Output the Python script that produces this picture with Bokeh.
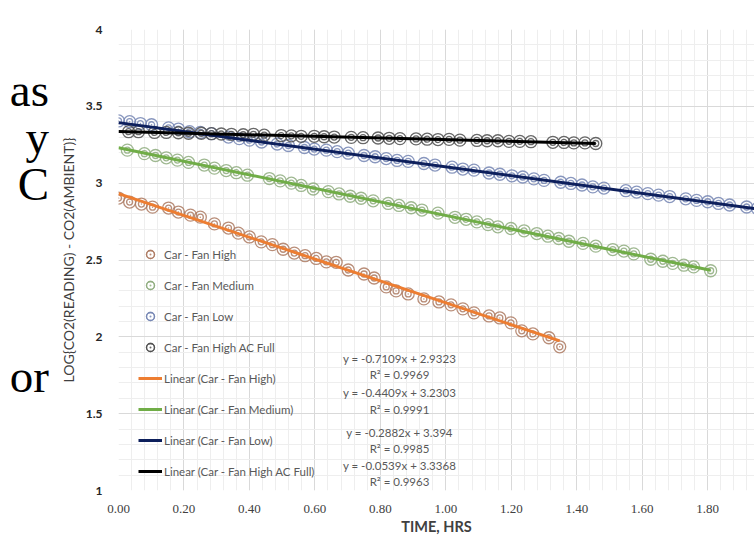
from bokeh.plotting import figure
from bokeh.layouts import row
from bokeh.models import (Range1d, FixedTicker, NumeralTickFormatter, Legend,
                          LegendItem, Label, Div)
from bokeh.embed import file_html
from bokeh.resources import INLINE

# ---------------- data ----------------
high_x = [0.000, 0.034, 0.070, 0.104, 0.153, 0.183, 0.220, 0.250, 0.293, 0.336,
          0.366, 0.400, 0.436, 0.470, 0.503, 0.537, 0.570, 0.604, 0.635, 0.665,
          0.702, 0.750, 0.781, 0.818, 0.848, 0.885, 0.933, 0.979, 1.016, 1.052,
          1.086, 1.132, 1.165, 1.199, 1.232, 1.266, 1.315, 1.348]
high_y = [2.903, 2.877, 2.864, 2.844, 2.838, 2.812, 2.792, 2.779, 2.735, 2.708,
          2.675, 2.650, 2.618, 2.600, 2.570, 2.545, 2.528, 2.510, 2.488, 2.485,
          2.435, 2.409, 2.383, 2.325, 2.299, 2.279, 2.247, 2.227, 2.208, 2.182,
          2.156, 2.136, 2.123, 2.091, 2.039, 2.019, 1.994, 1.935]

med_x = [0.027, 0.079, 0.113, 0.146, 0.180, 0.214, 0.262, 0.293, 0.329, 0.360,
         0.394, 0.461, 0.494, 0.528, 0.558, 0.595, 0.641, 0.674, 0.708, 0.741,
         0.778, 0.824, 0.857, 0.894, 0.927, 0.976, 1.028, 1.062, 1.095, 1.129,
         1.159, 1.199, 1.239, 1.278, 1.312, 1.345, 1.376, 1.419, 1.458, 1.510,
         1.544, 1.574, 1.626, 1.663, 1.693, 1.727, 1.757, 1.809]
med_y = [3.215, 3.192, 3.180, 3.165, 3.150, 3.135, 3.118, 3.098, 3.082, 3.068,
         3.052, 3.030, 3.015, 3.000, 2.985, 2.962, 2.945, 2.930, 2.915, 2.902,
         2.885, 2.868, 2.855, 2.840, 2.825, 2.805, 2.778, 2.765, 2.748, 2.730,
         2.716, 2.705, 2.690, 2.672, 2.655, 2.640, 2.622, 2.608, 2.590, 2.568,
         2.558, 2.540, 2.505, 2.492, 2.478, 2.466, 2.455, 2.430]

low_x = [0.000, 0.034, 0.067, 0.101, 0.153, 0.183, 0.217, 0.250, 0.284, 0.336,
         0.369, 0.400, 0.437, 0.485, 0.519, 0.568, 0.598, 0.635, 0.668, 0.702,
         0.750, 0.784, 0.818, 0.851, 0.885, 0.933, 0.967, 1.019, 1.052, 1.086,
         1.132, 1.165, 1.202, 1.235, 1.269, 1.300, 1.351, 1.382, 1.416, 1.449,
         1.483, 1.550, 1.583, 1.617, 1.650, 1.684, 1.733, 1.766, 1.800, 1.833,
         1.867, 1.919, 1.952]
low_y = [3.405, 3.400, 3.388, 3.380, 3.360, 3.352, 3.335, 3.330, 3.322, 3.300,
         3.290, 3.280, 3.268, 3.255, 3.245, 3.232, 3.222, 3.215, 3.205, 3.195,
         3.180, 3.172, 3.160, 3.148, 3.142, 3.128, 3.118, 3.104, 3.092, 3.085,
         3.066, 3.058, 3.048, 3.040, 3.028, 3.018, 3.006, 2.998, 2.988, 2.976,
         2.968, 2.951, 2.942, 2.932, 2.922, 2.913, 2.898, 2.888, 2.879, 2.868,
         2.858, 2.845, 2.835]

acf_x = [0.031, 0.061, 0.110, 0.146, 0.183, 0.214, 0.253, 0.284, 0.314, 0.345,
         0.381, 0.412, 0.445, 0.497, 0.528, 0.558, 0.598, 0.628, 0.659, 0.711,
         0.747, 0.793, 0.827, 0.860, 0.909, 0.943, 0.976, 1.010, 1.043, 1.095,
         1.126, 1.159, 1.193, 1.226, 1.260, 1.327, 1.361, 1.391, 1.425, 1.458]
acf_y = [3.335, 3.335, 3.330, 3.330, 3.328, 3.325, 3.325, 3.322, 3.320, 3.318,
         3.315, 3.318, 3.312, 3.310, 3.308, 3.305, 3.305, 3.302, 3.300, 3.298,
         3.296, 3.294, 3.292, 3.290, 3.288, 3.286, 3.284, 3.285, 3.280, 3.278,
         3.276, 3.276, 3.272, 3.272, 3.270, 3.266, 3.265, 3.262, 3.262, 3.258]

series_names = ["Car - Fan High", "Car - Fan Medium", "Car - Fan Low",
                "Car - Fan High AC Full"]
slopes = [-0.7109, -0.4409, -0.2882, -0.0539]
intercepts = [2.9323, 3.2303, 3.394, 3.3368]
r_squared = [0.9969, 0.9991, 0.9985, 0.9963]

x_ticks = [0.0, 0.2, 0.4, 0.6, 0.8, 1.0, 1.2, 1.4, 1.6, 1.8]
x_minor = [round(i * 0.04, 2) for i in range(0, 49)]
y_ticks = [1.0, 1.5, 2.0, 2.5, 3.0, 3.5, 4.0]
y_minor = [round(1 + i * 0.1, 1) for i in range(0, 31)]

side_text = ["as", "y", "C", "or"]

# ---------------- styling ----------------
marker_colors = ["#ad7a62", "#8eab7e", "#7485b3", "#4d4d4d"]
line_colors = ["#ED7D31", "#70AD47", "#0D1F5C", "#000000"]
SANS = "Lato"
SIDE_W = 56

p = figure(width=754 - SIDE_W, height=537, output_backend="svg",
           toolbar_location=None,
           x_range=Range1d(0, 1.943), y_range=Range1d(1, 4),
           min_border_left=117 - SIDE_W, min_border_right=0, min_border_top=29,
           min_border_bottom=46, background_fill_color="white",
           border_fill_color="white", outline_line_color=None)

xs_all = [high_x, med_x, low_x, acf_x]
ys_all = [high_y, med_y, low_y, acf_y]

marker_renderers = []
for xs, ys, mc in zip(xs_all, ys_all, marker_colors):
    outer = p.scatter(xs, ys, marker="circle", size=12, fill_color=None,
                      line_color=mc, line_width=1.3, line_alpha=0.85)
    inner = p.scatter(xs, ys, marker="circle_dot", size=6, fill_color=None,
                      line_color=mc, line_width=1.3, line_alpha=0.85)
    marker_renderers.append([outer, inner])

line_renderers = []
for xs, s, b, lc in zip(xs_all, slopes, intercepts, line_colors):
    x0, x1 = 0.0, max(xs)
    r = p.line([x0, x1], [b + s * x0, b + s * x1], line_color=lc, line_width=3)
    line_renderers.append(r)

# axes
p.xaxis.ticker = FixedTicker(ticks=x_ticks, minor_ticks=x_minor)
p.yaxis.ticker = FixedTicker(ticks=y_ticks, minor_ticks=y_minor)
p.xaxis.formatter = NumeralTickFormatter(format="0.00")
p.yaxis.formatter = NumeralTickFormatter(format="0.[0]")
for ax in (p.xaxis[0], p.yaxis[0]):
    ax.axis_line_color = None
    ax.major_tick_line_color = None
    ax.minor_tick_line_color = None
    ax.major_tick_in = 0
    ax.major_tick_out = 0

p.xaxis.major_label_text_font = "Liberation Serif"
p.xaxis.major_label_text_font_size = "13px"
p.xaxis.major_label_text_color = "#404040"
p.xaxis.major_label_standoff = 10
p.xaxis.axis_label = "TIME, HRS"
p.xaxis.axis_label_text_font = SANS
p.xaxis.axis_label_text_font_style = "bold"
p.xaxis.axis_label_text_font_size = "14.5px"
p.xaxis.axis_label_text_color = "#404040"
p.xaxis.axis_label_standoff = 2

p.yaxis.major_label_text_font = SANS
p.yaxis.major_label_text_font_style = "bold"
p.yaxis.major_label_text_font_size = "12px"
p.yaxis.major_label_text_color = "#262626"
p.yaxis.major_label_standoff = 12
p.yaxis.axis_label = "LOG{CO2(READING) - CO2(AMBIENT)}"
p.yaxis.axis_label_text_font = SANS
p.yaxis.axis_label_text_font_style = "normal"
p.yaxis.axis_label_text_font_size = "14px"
p.yaxis.axis_label_text_color = "#404040"
p.yaxis.axis_label_standoff = 6

p.xgrid.grid_line_color = "#d9d9d9"
p.ygrid.grid_line_color = "#d9d9d9"
p.xgrid.minor_grid_line_color = "#eeeeee"
p.ygrid.minor_grid_line_color = "#eeeeee"

# legend
items = [LegendItem(label=n, renderers=rs) for n, rs in zip(series_names, marker_renderers)]
items += [LegendItem(label=f"Linear ({n})", renderers=[r])
          for n, r in zip(series_names, line_renderers)]
legend = Legend(items=items, location=(20, 9), padding=0, margin=0, spacing=11,
                glyph_height=20, glyph_width=24, label_height=20, label_standoff=2,
                border_line_color=None, background_fill_alpha=0,
                label_text_font=SANS, label_text_font_size="11.5px",
                label_text_color="#595959")
p.add_layout(legend)

# trendline equations
eq_y = [132, 116, 98, 81, 58, 42, 25, 9]
k = 0
for s, b, r2 in zip(slopes, intercepts, r_squared):
    for txt in (f"y = {s}x + {b}", f"R\u00b2 = {r2}"):
        p.add_layout(Label(x=281, y=eq_y[k], x_units="screen", y_units="screen",
                           text=txt, text_align="center", text_baseline="middle",
                           text_font=SANS, text_font_size="11.5px",
                           text_color="#595959"))
        k += 1

# fragments of slide text at the left edge
side_top = [67, 114, 161, 353]
spans = "".join(
    f'<div style="position:absolute;right:{SIDE_W - 49}px;top:{t}px;'
    f'white-space:nowrap;">{txt}</div>'
    for txt, t in zip(side_text, side_top))
side = Div(text=(f'<div style="position:relative;width:{SIDE_W}px;height:537px;'
                 f'overflow:hidden;font-family:\'Liberation Serif\';font-size:47px;'
                 f'line-height:47px;color:#000;">{spans}</div>'),
           width=SIDE_W, height=537, margin=0)

layout = row(side, p, spacing=0)

open("out.html", "w").write(file_html(layout, INLINE))
